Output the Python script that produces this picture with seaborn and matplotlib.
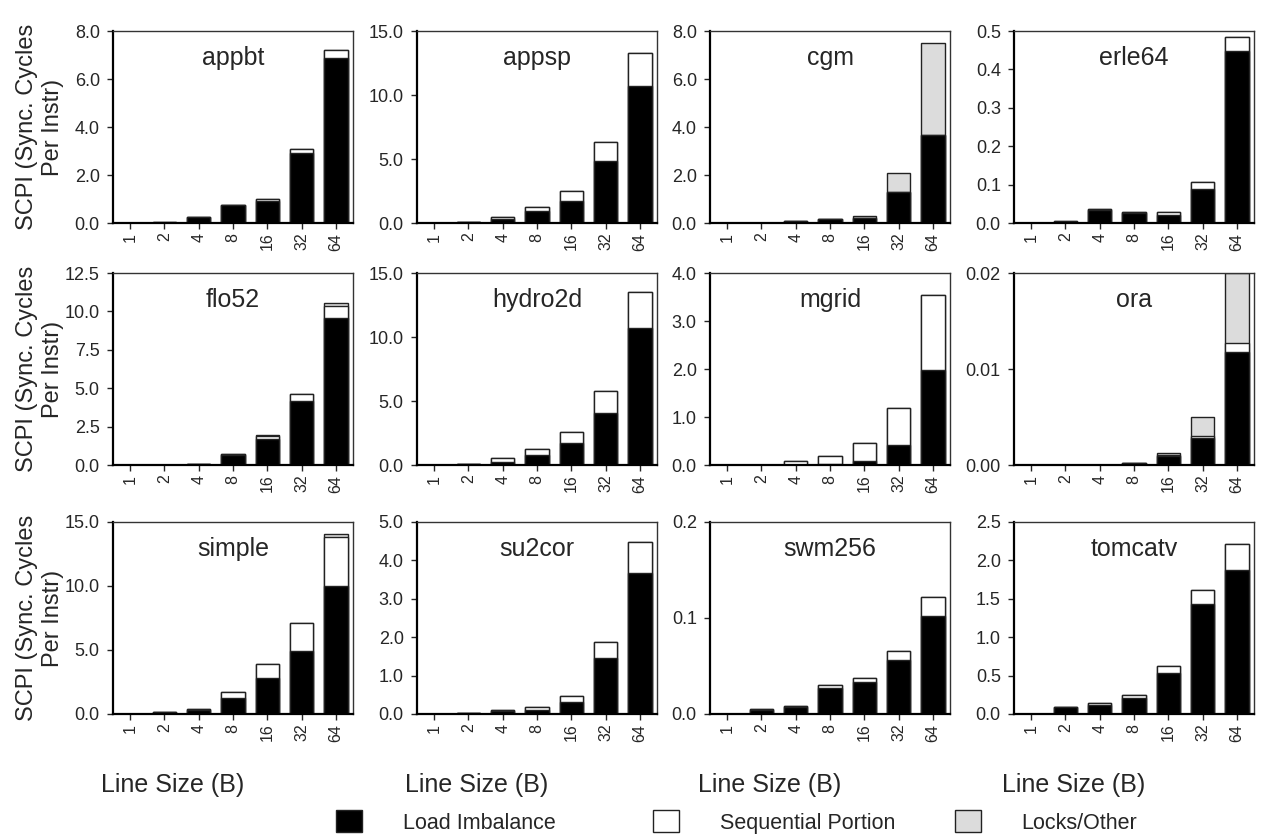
import numpy as np
import pandas as pd
import matplotlib
matplotlib.use("Agg")
import matplotlib.pyplot as plt
from matplotlib.patches import Patch
from matplotlib.ticker import FormatStrFormatter, MultipleLocator
import seaborn as sns

sns.set_style("ticks")
plt.rcParams["font.family"] = ["Liberation Sans", "DejaVu Sans"]

# Line sizes (bytes) on the x axis
line_sizes = ["1", "2", "4", "8", "16", "32", "64"]

benchmarks = ["appbt", "appsp", "cgm", "erle64",
              "flo52", "hydro2d", "mgrid", "ora",
              "simple", "su2cor", "swm256", "tomcatv"]

# SCPI components per benchmark, one value per line size
load_imbalance = [
    [0.0, 0.02, 0.25, 0.75, 0.92, 2.93, 6.88],          # appbt
    [0.0, 0.04, 0.33, 0.95, 1.75, 4.85, 10.7],          # appsp
    [0.0, 0.01, 0.08, 0.15, 0.22, 1.28, 3.67],          # cgm
    [0.0005, 0.003, 0.034, 0.027, 0.021, 0.089, 0.447], # erle64
    [0.0, 0.0, 0.06, 0.68, 1.67, 4.19, 9.6],            # flo52
    [0.0, 0.05, 0.26, 0.78, 1.69, 4.09, 10.68],         # hydro2d
    [0.0, 0.0, 0.01, 0.02, 0.08, 0.42, 1.98],           # mgrid
    [0.0, 0.0, 0.0, 0.0002, 0.0009, 0.0028, 0.0118],    # ora
    [0.0, 0.14, 0.3, 1.28, 2.85, 4.95, 10.03],          # simple
    [0.0, 0.02, 0.08, 0.11, 0.3, 1.47, 3.68],           # su2cor
    [0.0003, 0.0045, 0.0075, 0.027, 0.033, 0.0565, 0.102],  # swm256
    [0.003, 0.09, 0.12, 0.21, 0.53, 1.43, 1.88],        # tomcatv
]
sequential = [
    [0.0, 0.01, 0.02, 0.02, 0.1, 0.17, 0.33],
    [0.0, 0.03, 0.17, 0.33, 0.73, 1.5, 2.6],
    [0.0, 0.0, 0.0, 0.0, 0.0, 0.0, 0.0],
    [0.0, 0.001, 0.002, 0.001, 0.008, 0.019, 0.038],
    [0.0, 0.0, 0.02, 0.04, 0.25, 0.43, 0.77],
    [0.0, 0.05, 0.26, 0.44, 0.91, 1.71, 2.86],
    [0.005, 0.01, 0.07, 0.17, 0.37, 0.76, 1.56],
    [0.0, 0.0, 0.0, 0.0, 0.0001, 0.0002, 0.0009],
    [0.0, 0.02, 0.07, 0.47, 1.05, 2.17, 3.82],
    [0.0, 0.01, 0.02, 0.07, 0.17, 0.41, 0.79],
    [0.0, 0.0003, 0.0005, 0.0037, 0.0045, 0.0095, 0.0195],
    [0.0, 0.005, 0.02, 0.04, 0.09, 0.19, 0.33],
]
locks_other = [
    [0.0, 0.0, 0.0, 0.0, 0.0, 0.0, 0.0],
    [0.0, 0.0, 0.0, 0.0, 0.0, 0.0, 0.0],
    [0.0, 0.0, 0.02, 0.02, 0.07, 0.79, 3.84],
    [0.0, 0.0, 0.0, 0.0, 0.0, 0.0, 0.0],
    [0.0, 0.0, 0.0, 0.0, 0.03, 0.0, 0.2],
    [0.0, 0.0, 0.0, 0.0, 0.0, 0.0, 0.0],
    [0.0, 0.0, 0.0, 0.0, 0.0, 0.0, 0.0],
    [0.0, 0.0, 0.0, 0.0, 0.0002, 0.002, 0.0073],
    [0.0, 0.0, 0.0, 0.0, 0.0, 0.0, 0.25],
    [0.0, 0.0, 0.0, 0.0, 0.0, 0.0, 0.0],
    [0.0, 0.0, 0.0, 0.0, 0.0, 0.0, 0.0],
    [0.0, 0.0, 0.0, 0.0, 0.0, 0.0, 0.0],
]

# y-axis ranges and tick steps
y_max = [8.0, 15.0, 8.0, 0.5, 12.5, 15.0, 4.0, 0.02, 15.0, 5.0, 0.2, 2.5]
y_step = [2.0, 5.0, 2.0, 0.1, 2.5, 5.0, 1.0, 0.01, 5.0, 1.0, 0.1, 0.5]

legend_labels = ["Load Imbalance", "Sequential Portion", "Locks/Other"]

C_LOAD = "#000000"
C_SEQ = "#ffffff"
C_LOCK = "#dcdcdc"
EDGE = "#222222"

W, H = 1261, 839
fig = plt.figure(figsize=(W / 100, H / 100), dpi=100)

col_left = [113, 417, 710, 1014]
row_top = [31, 273, 522]
ax_w, ax_h = 240, 192

for i, name in enumerate(benchmarks):
    r, c = divmod(i, 4)
    ax = fig.add_axes([col_left[c] / W, 1 - (row_top[r] + ax_h) / H, ax_w / W, ax_h / H])

    li = np.array(load_imbalance[i])
    sq = np.array(sequential[i])
    lo = np.array(locks_other[i])
    df = pd.DataFrame({
        "size": line_sizes,
        "total": li + sq + lo,
        "li_seq": li + sq,
        "li": li,
    })
    # stacked bars drawn back to front from cumulative heights
    for col, colr in [("total", C_LOCK), ("li_seq", C_SEQ), ("li", C_LOAD)]:
        sns.barplot(data=df, x="size", y=col, order=line_sizes, color=colr,
                    saturation=1, width=0.68, edgecolor=EDGE, linewidth=1.0,
                    errorbar=None, ax=ax)

    ax.set_xlim(-0.5, 6.5)
    ax.set_ylim(0, y_max[i])
    ax.yaxis.set_major_locator(MultipleLocator(y_step[i]))
    ax.yaxis.set_major_formatter(FormatStrFormatter("%.2f" if name == "ora" else "%.1f"))
    ax.set_xlabel("")
    ax.set_ylabel("")
    ax.tick_params(axis="x", labelrotation=90, labelsize=11.5, length=4.5, width=1,
                   direction="out", pad=2.5)
    ax.tick_params(axis="y", labelsize=13, length=4.5, width=1, direction="out", pad=5)
    for s in ["left", "bottom"]:
        ax.spines[s].set_linewidth(1.6)
        ax.spines[s].set_color("#000000")
    for s in ["top", "right"]:
        ax.spines[s].set_linewidth(1.0)
        ax.spines[s].set_color("#333333")
        ax.spines[s].set_visible(True)

    ax.text(0.5, 0.86, name, transform=ax.transAxes, ha="center", va="center",
            fontsize=18)

    if c == 0:
        ax.set_ylabel("SCPI (Sync. Cycles\nPer Instr)", fontsize=17,
                      linespacing=1.2)
        ax.yaxis.set_label_coords(-0.205, 0.5)

for c in range(4):
    fig.text((col_left[c] - 12) / W, 1 - 785 / H, "Line Size (B)",
             ha="left", va="center", fontsize=18)

# legend entries laid out on a fixed grid along the bottom
entry_x = [336, 653, 955]
for x, lab, colr in zip(entry_x, legend_labels, [C_LOAD, C_SEQ, C_LOCK]):
    fig.legend(handles=[Patch(facecolor=colr, edgecolor=EDGE, linewidth=1.0, label=lab)],
               loc="center left", bbox_to_anchor=(x / W, 1 - 822 / H),
               frameon=False, fontsize=15.5, handlelength=1.2, handleheight=1.2,
               handletextpad=1.9, borderpad=0, borderaxespad=0)

fig.savefig("out.png", dpi=100)
